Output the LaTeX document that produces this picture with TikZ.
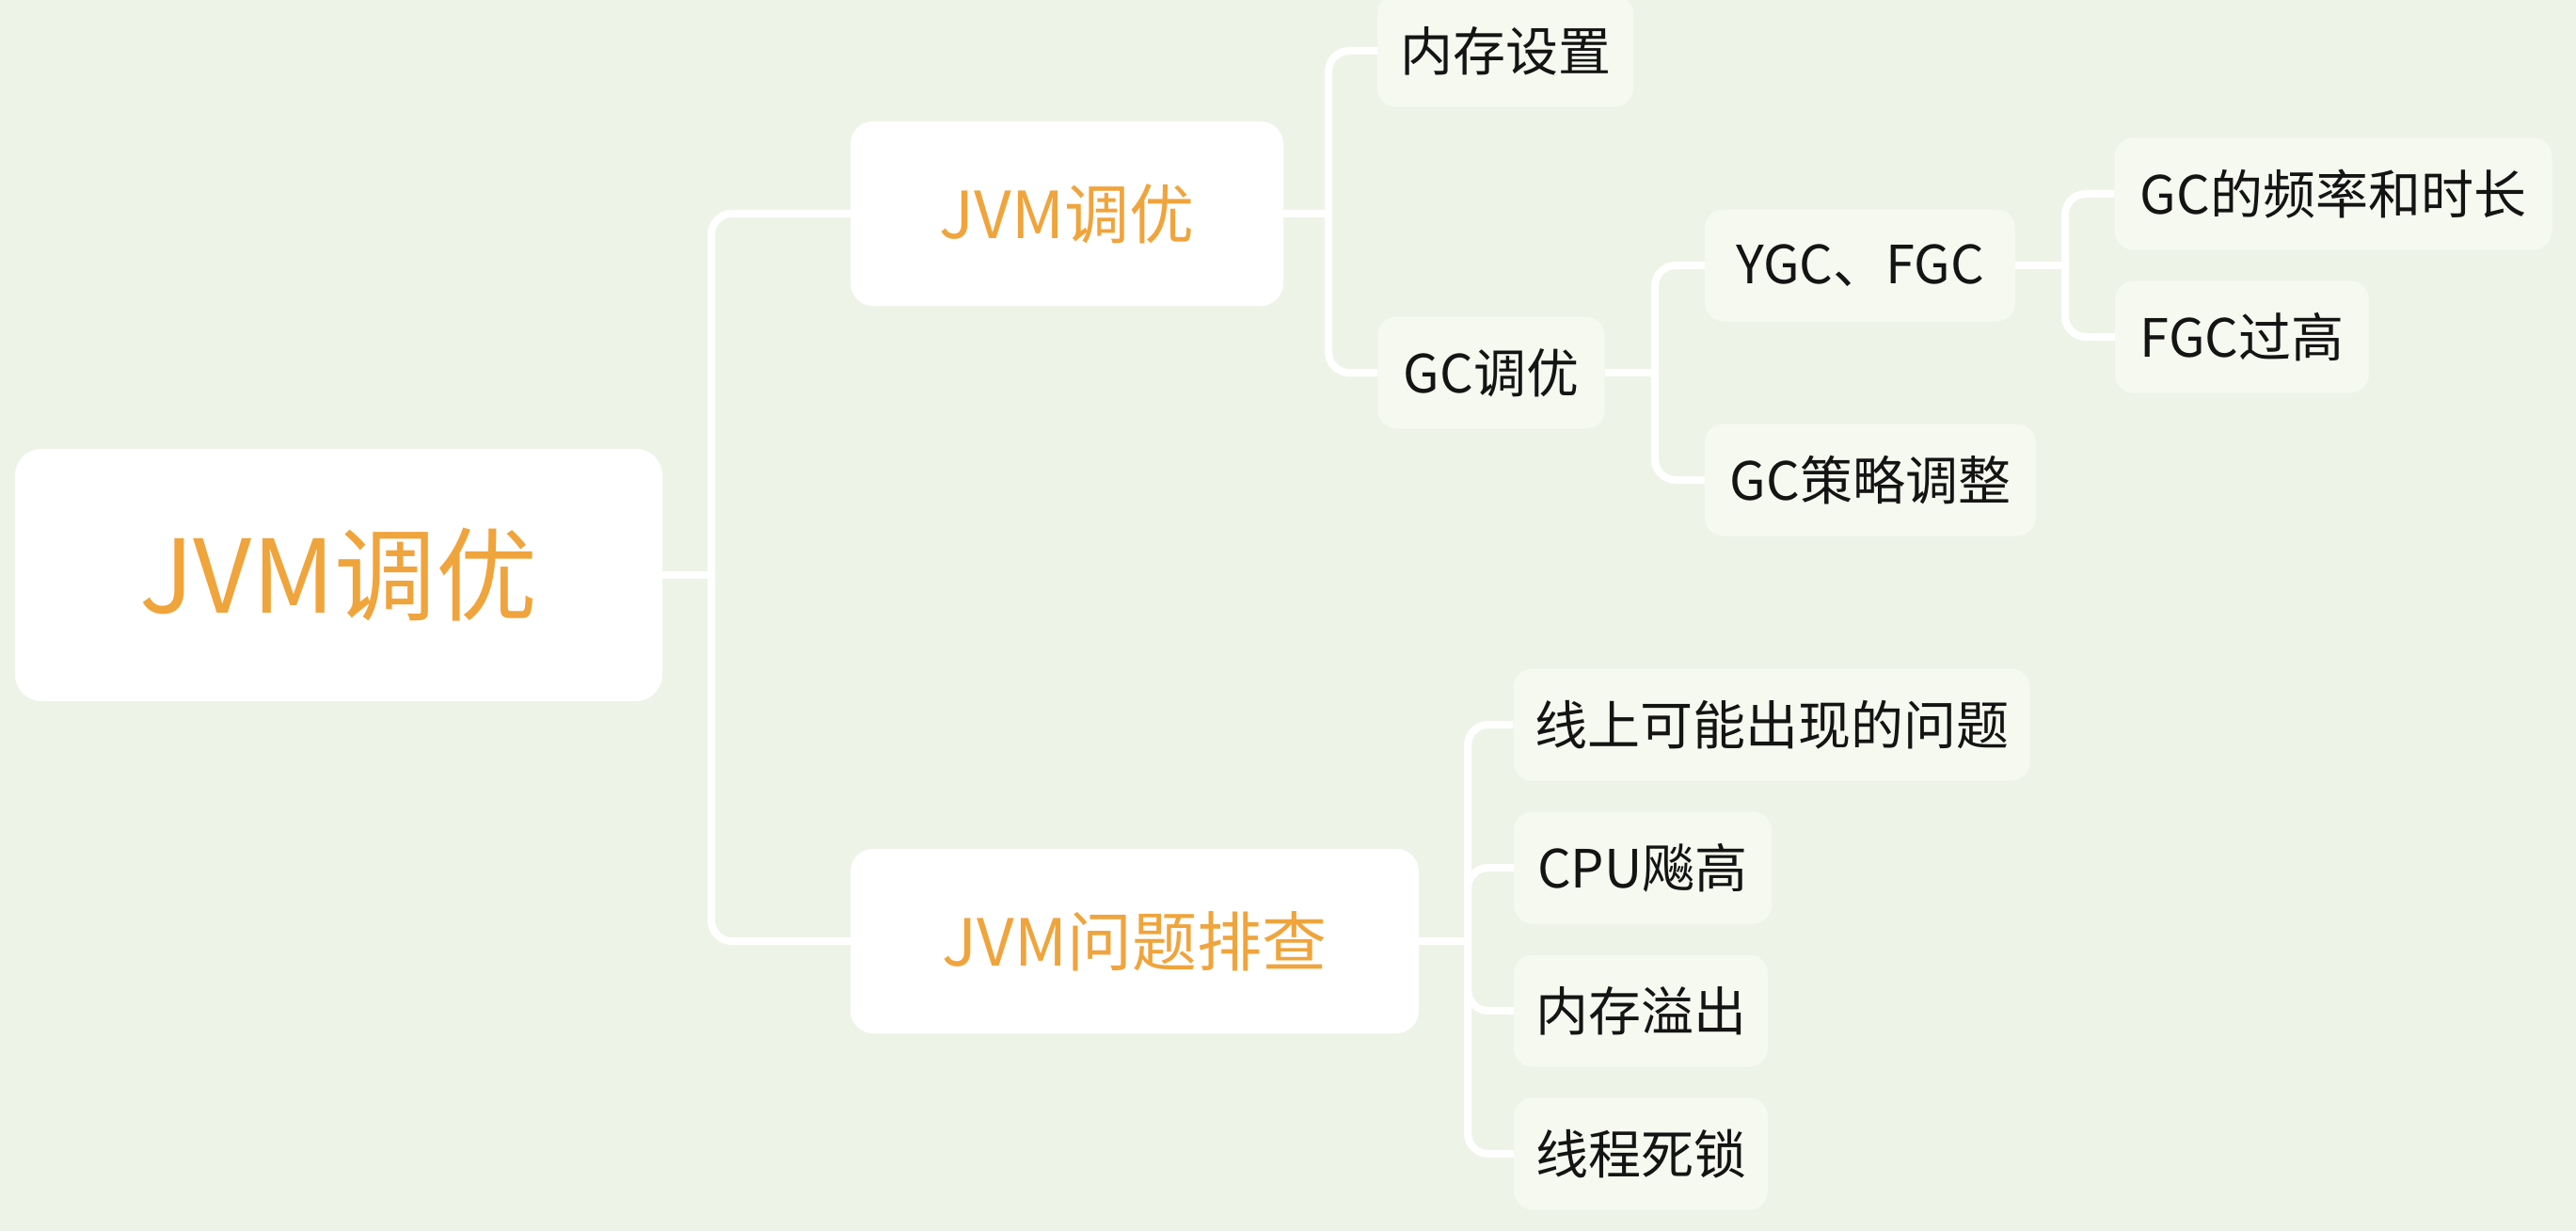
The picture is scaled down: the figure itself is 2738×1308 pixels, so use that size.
\documentclass[tikz,border=0pt]{standalone}
\usepackage{fontspec}
\setmainfont{Noto Sans CJK SC}
\definecolor{bgc}{RGB}{238,243,232}
\definecolor{leafc}{RGB}{246,249,240}
\definecolor{orangec}{RGB}{240,164,60}
\definecolor{textc}{RGB}{20,20,20}
\tikzset{
  rootbox/.style={fill=white, rounded corners=28pt, inner sep=0pt, text=orangec,
    font=\fontsize{108}{120}\selectfont},
  mainbox/.style={fill=white, rounded corners=24pt, inner sep=0pt, minimum height=196pt, text=orangec,
    font=\fontsize{69}{80}\selectfont},
  leafbox/.style={fill=leafc, rounded corners=20pt, inner sep=0pt, minimum height=119pt, text=textc,
    font=\fontsize{56}{64}\selectfont},
  link/.style={draw=white, line width=8pt},
  branchline/.style={link, rounded corners=22pt}
}
\begin{document}
\begin{tikzpicture}[x=1pt,y=-1pt]
\fill[bgc] (0,0) rectangle (2738,1308);
\useasboundingbox (0,0) rectangle (2738,1308);

% nodes
\node[rootbox, minimum width=688pt, minimum height=268pt] (root) at (360,611) {JVM调优};
\node[mainbox, minimum width=460pt] (a) at (1134,227) {JVM调优};
\node[mainbox, minimum width=604pt] (b) at (1206,1000) {JVM问题排查};

\node[leafbox, minimum width=272pt] (a1) at (1600,54) {内存设置};
\node[leafbox, minimum width=241pt] (a2) at (1585,396) {GC调优};
\node[leafbox, minimum width=330pt] (a21) at (1977,282) {YGC、FGC};
\node[leafbox, minimum width=352pt] (a22) at (1988,510) {GC策略调整};
\node[leafbox, minimum width=465pt] (a211) at (2480,206) {GC的频率和时长};
\node[leafbox, minimum width=270pt] (a212) at (2383,358) {FGC过高};

\node[leafbox, minimum width=549pt] (b1) at (1883,770) {线上可能出现的问题};
\node[leafbox, minimum width=274pt] (b2) at (1746,922) {CPU飚高};
\node[leafbox, minimum width=270pt] (b3) at (1744,1074) {内存溢出};
\node[leafbox, minimum width=270pt] (b4) at (1744,1226) {线程死锁};

% junction points
\coordinate (jr) at (756,611);
\coordinate (ja) at (1412,227);
\coordinate (ja2) at (1759,396);
\coordinate (ja21) at (2195,282);
\coordinate (jb) at (1560,1000);

% connectors
\draw[link] (root.east) -- (jr);
\draw[branchline] (jr) |- (a.west);
\draw[branchline] (jr) |- (b.west);

\draw[link] (a.east) -- (ja);
\draw[branchline] (ja) |- (a1.west);
\draw[branchline] (ja) |- (a2.west);

\draw[link] (a2.east) -- (ja2);
\draw[branchline] (ja2) |- (a21.west);
\draw[branchline] (ja2) |- (a22.west);

\draw[link] (a21.east) -- (ja21);
\draw[branchline] (ja21) |- (a211.west);
\draw[branchline] (ja21) |- (a212.west);

\draw[link] (b.east) -- (jb);
\draw[branchline] (jb) |- (b1.west);
\draw[branchline] (jb) |- (b2.west);
\draw[branchline] (jb) |- (b3.west);
\draw[branchline] (jb) |- (b4.west);
\end{tikzpicture}
\end{document}
